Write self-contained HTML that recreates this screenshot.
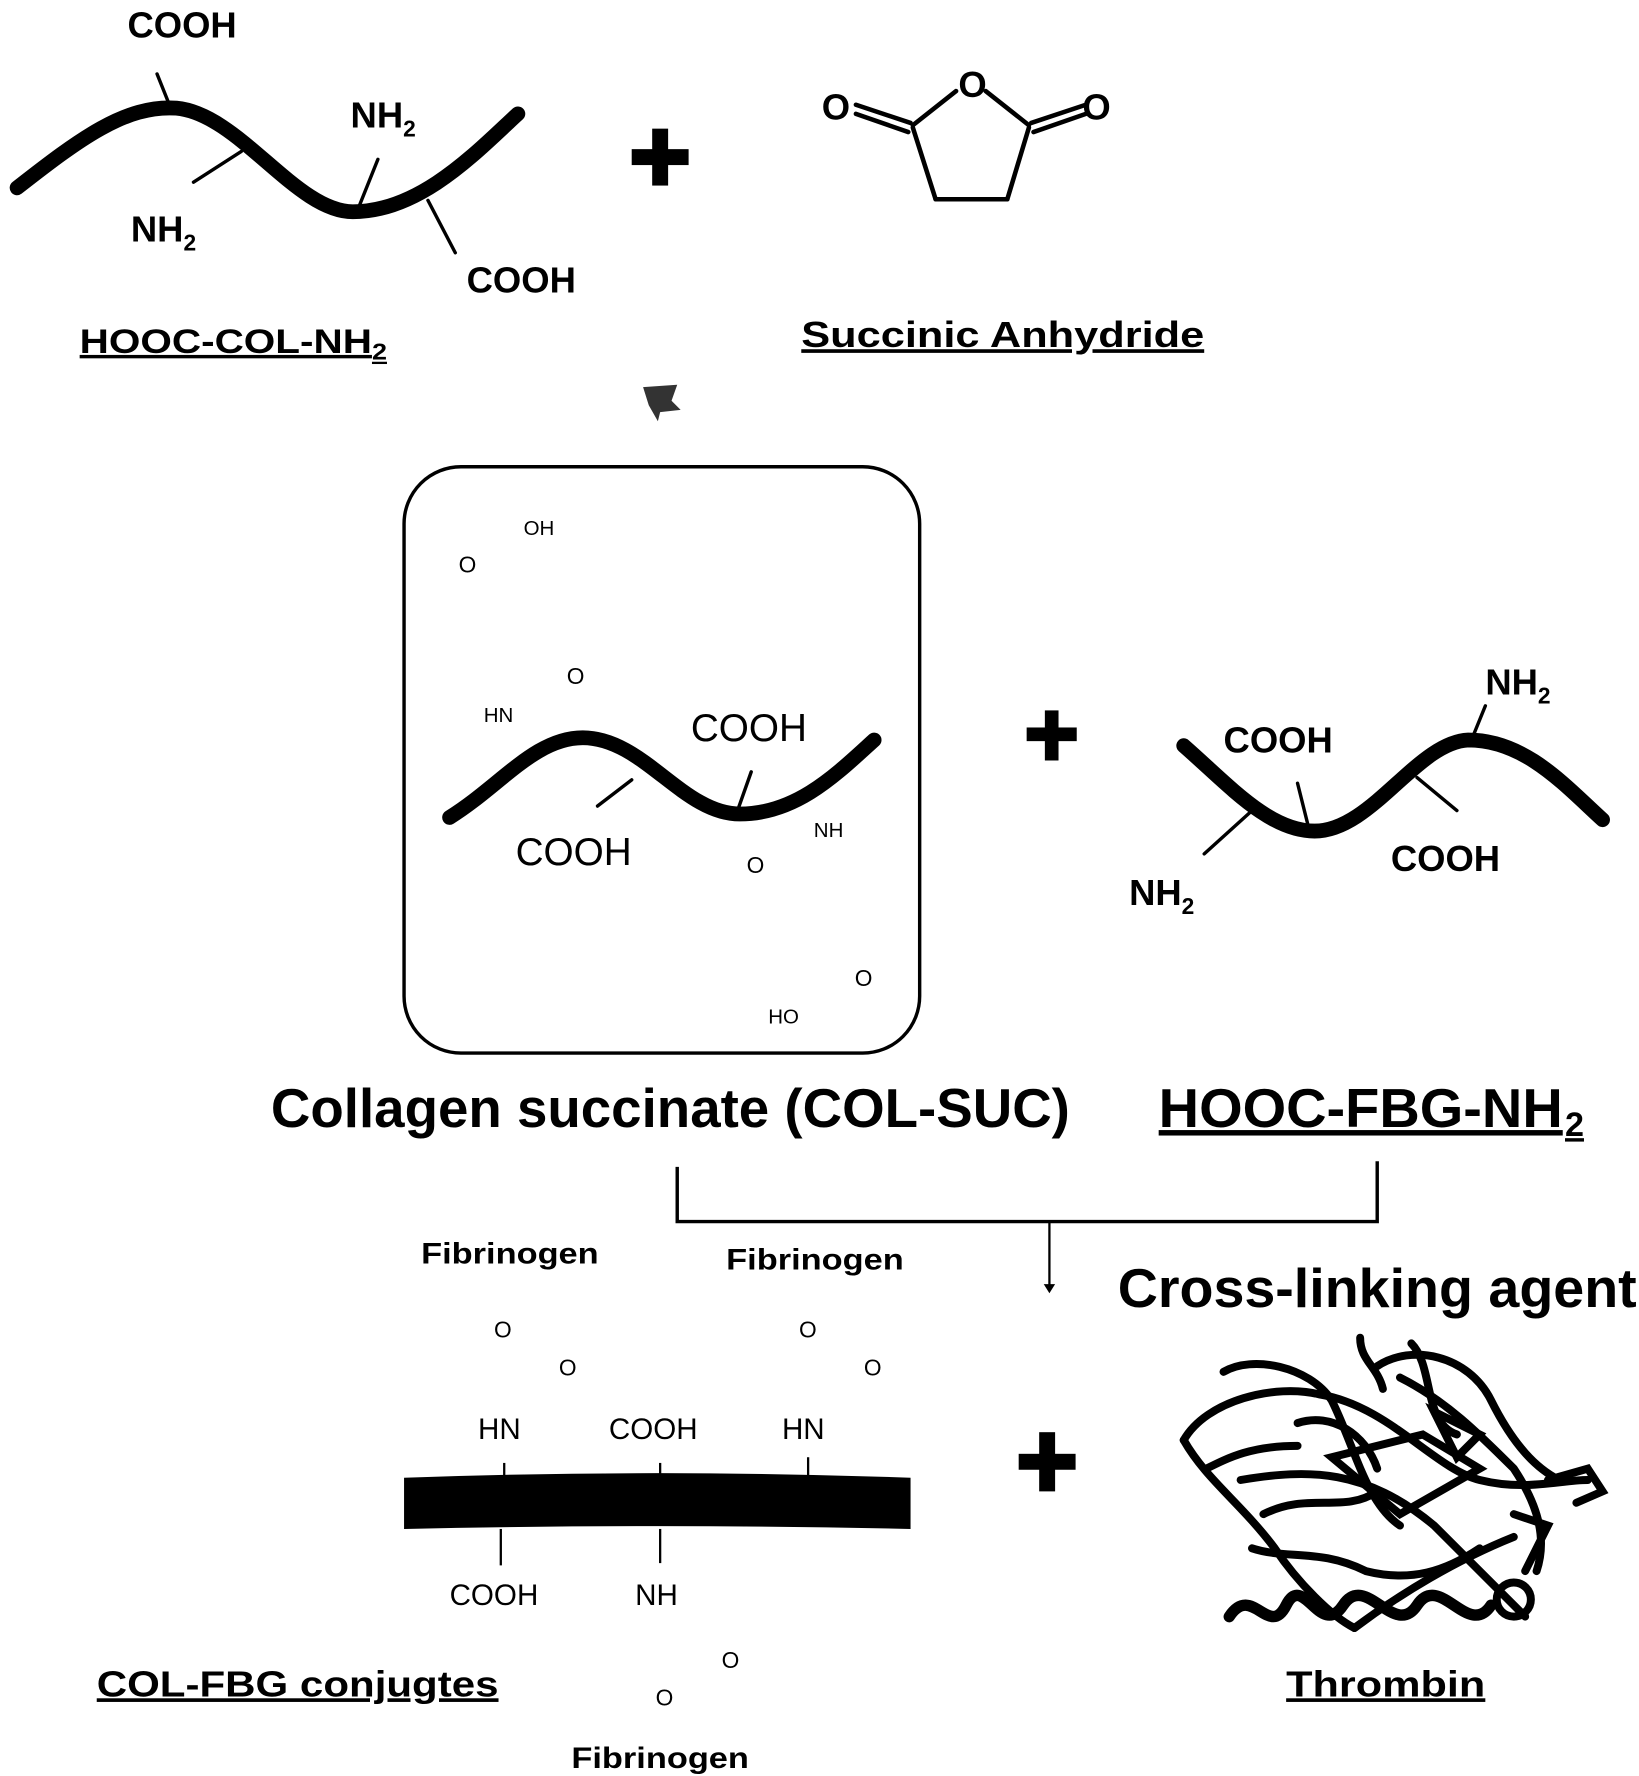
<!DOCTYPE html>
<html><head><meta charset="utf-8"><style>
html,body{margin:0;padding:0;background:#fff;}
svg{display:block;}
text{font-family:"Liberation Sans",sans-serif;font-weight:bold;fill:#000;}
.l{font-weight:normal;}
</style></head><body>
<svg width="1639" height="1776" viewBox="0 0 1440 1560" preserveAspectRatio="none" xmlns="http://www.w3.org/2000/svg">
<g fill="none" stroke="#000" stroke-linecap="round">
<path d="M15,165 C70,122 110,92 155,95 C210,100 260,186 310,186 C370,186 420,132 455,100" stroke-width="13"/>
<g stroke-width="3">
<line x1="150" y1="95" x2="138" y2="65"/><line x1="170" y1="160" x2="212" y2="133"/>
<line x1="316" y1="180" x2="332" y2="140"/><line x1="376" y1="176" x2="400" y2="222"/>
</g>
<g stroke-width="4">
<line x1="840" y1="80" x2="802" y2="110"/><line x1="866" y1="80" x2="904" y2="110"/>
<line x1="802" y1="112" x2="822" y2="175"/><line x1="904" y1="112" x2="885" y2="175"/>
<line x1="822" y1="175" x2="885" y2="175"/>
<line x1="752" y1="92" x2="800" y2="108"/><line x1="752" y1="100" x2="798" y2="116"/>
<line x1="954" y1="92" x2="906" y2="108"/><line x1="954" y1="100" x2="908" y2="116"/>
</g>
<rect x="355" y="410" width="453" height="515" rx="50" stroke-width="3"/>
<path d="M395,718 C440,690 470,648 512,648 C565,648 600,715 650,715 C700,715 735,680 768,650" stroke-width="13"/>
<g stroke-width="3">
<line x1="525" y1="708" x2="555" y2="685"/><line x1="648" y1="712" x2="660" y2="678"/>
</g>
<path d="M1040,655 C1080,690 1115,730 1155,730 C1205,730 1245,652 1290,650 C1340,650 1375,690 1408,720" stroke-width="13"/>
<g stroke-width="3">
<line x1="1150" y1="728" x2="1140" y2="688"/><line x1="1100" y1="712" x2="1058" y2="750"/>
<line x1="1292" y1="652" x2="1305" y2="620"/><line x1="1245" y1="683" x2="1280" y2="712"/>
</g>
<path d="M595,1025 V1073 H1210 V1020" stroke-width="3" stroke-linecap="butt"/>
<line x1="922" y1="1073" x2="922" y2="1130" stroke-width="2"/>
<!-- thrombin blob -->
<g stroke-width="7">
<path d="M1040,1265 C1060,1230 1120,1215 1160,1225 C1220,1235 1260,1290 1300,1300 C1340,1310 1370,1300 1395,1300"/>
<path d="M1040,1265 C1060,1300 1090,1320 1120,1360 C1140,1390 1170,1420 1190,1430"/>
<path d="M1075,1205 C1100,1190 1150,1200 1170,1230 C1190,1270 1200,1320 1230,1340"/>
<path d="M1210,1200 C1240,1180 1290,1190 1310,1230 C1330,1270 1350,1290 1370,1300"/>
<path d="M1090,1300 C1150,1290 1200,1290 1260,1340 C1290,1370 1320,1400 1340,1420"/>
<path d="M1190,1430 C1230,1400 1280,1370 1330,1350"/>
<path d="M1080,1420 C1100,1390 1115,1440 1130,1410 C1145,1380 1160,1440 1180,1410 C1200,1380 1225,1440 1245,1410 C1265,1380 1290,1440 1310,1410" stroke-width="10"/>
<circle cx="1330" cy="1405" r="15"/>
<path d="M1170,1280 L1250,1260 L1300,1290 L1230,1330 Z"/>
<path d="M1240,1180 C1260,1200 1250,1250 1280,1260"/>
<path d="M1195,1175 C1195,1195 1210,1200 1215,1220"/>
<path d="M1360,1300 L1395,1290 L1408,1310 L1385,1320"/>
<path d="M1110,1330 C1150,1310 1180,1330 1210,1310"/>
<path d="M1230,1210 C1270,1230 1300,1260 1330,1290 C1350,1320 1360,1350 1350,1380"/>
<path d="M1100,1360 C1130,1370 1160,1360 1200,1380 C1240,1390 1270,1380 1300,1360"/>
<path d="M1260,1240 L1300,1260 L1280,1280 Z"/>
<path d="M1140,1250 C1170,1240 1200,1260 1210,1290"/>
<path d="M1330,1330 L1360,1340 L1340,1380"/>
<path d="M1060,1290 C1080,1280 1100,1270 1140,1270"/>
</g>
</g>
<g fill="#000">
<rect x="555" y="131" width="50" height="14"/><rect x="573" y="113" width="14" height="50"/>
<rect x="902" y="639" width="44" height="12"/><rect x="918" y="624" width="12" height="44"/>
<rect x="895" y="1277" width="50" height="14"/><rect x="913" y="1258" width="14" height="52"/>
<path d="M917,1128 L927,1128 L922,1136 Z"/>
<path d="M565,340 L595,338 L590,352 L598,360 L580,362 L578,370 L570,356 Z" opacity="0.8"/>
<path d="M355,1298 Q578,1290 800,1298 L800,1343 Q578,1338 355,1343 Z"/>
</g>
<g stroke="#000" stroke-width="2">
<line x1="443" y1="1285" x2="443" y2="1300"/><line x1="580" y1="1285" x2="580" y2="1300"/><line x1="710" y1="1280" x2="710" y2="1300"/>
<line x1="440" y1="1343" x2="440" y2="1375"/><line x1="580" y1="1343" x2="580" y2="1373"/>
</g>
<text x="112" y="33" font-size="32">COOH</text>
<text x="308" y="112" font-size="32">NH<tspan font-size="20" dy="8">2</tspan></text>
<text x="115" y="212" font-size="32">NH<tspan font-size="20" dy="8">2</tspan></text>
<text x="410" y="257" font-size="32">COOH</text>
<text x="70" y="310" font-size="30" text-decoration="underline" textLength="270" lengthAdjust="spacingAndGlyphs">HOOC-COL-NH<tspan font-size="20" dy="6">2</tspan></text>
<text x="722" y="105" font-size="32">O</text>
<text x="842" y="85" font-size="32">O</text>
<text x="951" y="105" font-size="32">O</text>
<text x="704" y="305" font-size="32" text-decoration="underline" textLength="354" lengthAdjust="spacingAndGlyphs">Succinic Anhydride</text>
<text x="460" y="470" font-size="18" class="l">OH</text>
<text x="403" y="503" font-size="20" class="l">O</text>
<text x="498" y="601" font-size="20" class="l">O</text>
<text x="425" y="634" font-size="18" class="l">HN</text>
<text x="607" y="651" font-size="34" class="l">COOH</text>
<text x="453" y="760" font-size="34" class="l">COOH</text>
<text x="715" y="735" font-size="18" class="l">NH</text>
<text x="656" y="767" font-size="20" class="l">O</text>
<text x="751" y="866" font-size="20" class="l">O</text>
<text x="675" y="899" font-size="18" class="l">HO</text>
<text x="1305" y="610" font-size="32">NH<tspan font-size="20" dy="8">2</tspan></text>
<text x="1075" y="661" font-size="32">COOH</text>
<text x="1222" y="765" font-size="32">COOH</text>
<text x="992" y="795" font-size="32">NH<tspan font-size="20" dy="8">2</tspan></text>
<text x="238" y="990" font-size="48" textLength="702" lengthAdjust="spacingAndGlyphs">Collagen succinate (COL-SUC)</text>
<text x="1018" y="990" font-size="48" text-decoration="underline" textLength="355" lengthAdjust="spacingAndGlyphs">HOOC-FBG-NH</text>
<text x="1375" y="998" font-size="30" text-decoration="underline">2</text>
<text x="982" y="1148" font-size="48" textLength="456" lengthAdjust="spacingAndGlyphs">Cross-linking agent</text>
<text x="370" y="1110" font-size="26" textLength="156" lengthAdjust="spacingAndGlyphs">Fibrinogen</text>
<text x="638" y="1115" font-size="26" textLength="156" lengthAdjust="spacingAndGlyphs">Fibrinogen</text>
<text x="434" y="1175" font-size="20" class="l">O</text>
<text x="491" y="1208" font-size="20" class="l">O</text>
<text x="702" y="1175" font-size="20" class="l">O</text>
<text x="759" y="1208" font-size="20" class="l">O</text>
<text x="420" y="1264" font-size="26" class="l">HN</text>
<text x="535" y="1264" font-size="26" class="l">COOH</text>
<text x="687" y="1264" font-size="26" class="l">HN</text>
<text x="395" y="1410" font-size="26" class="l">COOH</text>
<text x="558" y="1410" font-size="26" class="l">NH</text>
<text x="634" y="1465" font-size="20" class="l">O</text>
<text x="576" y="1498" font-size="20" class="l">O</text>
<text x="502" y="1553" font-size="26" textLength="156" lengthAdjust="spacingAndGlyphs">Fibrinogen</text>
<text x="85" y="1490" font-size="32" text-decoration="underline" textLength="353" lengthAdjust="spacingAndGlyphs">COL-FBG conjugtes</text>
<text x="1130" y="1490" font-size="32" text-decoration="underline" textLength="175" lengthAdjust="spacingAndGlyphs">Thrombin</text>
</svg>
</body></html>
